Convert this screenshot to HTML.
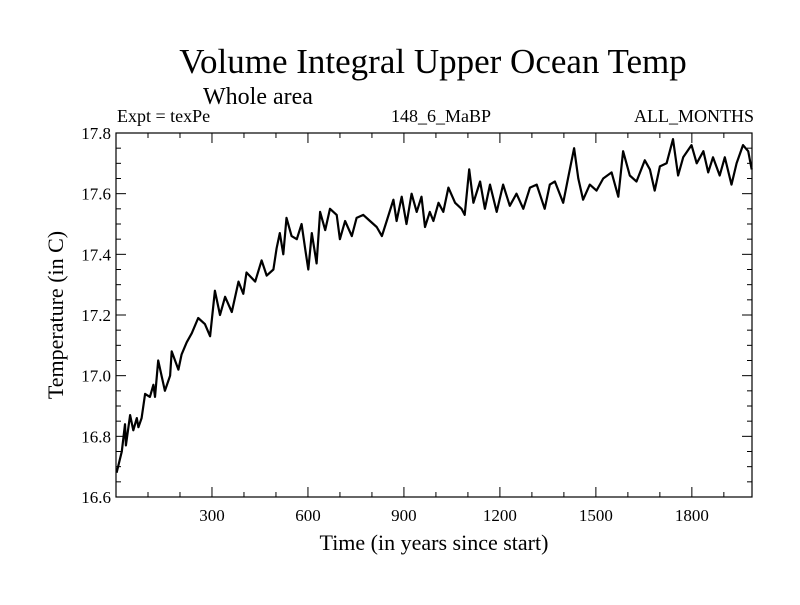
<!DOCTYPE html>
<html><head><meta charset="utf-8"><style>
body{margin:0;background:#fff}
svg text{font-family:"Liberation Serif",serif;fill:#000}
</style></head><body>
<svg id="chart" width="800" height="600" viewBox="0 0 800 600">
<rect width="800" height="600" fill="#fff"/>
<text x="433" y="73" font-size="35" text-anchor="middle">Volume Integral Upper Ocean Temp</text>
<text x="203" y="104" font-size="24">Whole area</text>
<text x="117" y="122" font-size="18">Expt = texPe</text>
<text x="441" y="122" font-size="18" text-anchor="middle">148_6_MaBP</text>
<text x="754" y="122" font-size="18" text-anchor="end">ALL_MONTHS</text>
<text x="434" y="550" font-size="22" text-anchor="middle">Time (in years since start)</text>
<text transform="translate(63,315) rotate(-90)" font-size="22" text-anchor="middle">Temperature (in C)</text>
<g id="axes"></g>
<path id="series" fill="none" stroke="#000" stroke-width="2.2" stroke-linejoin="round"/>
<rect x="116" y="133" width="636" height="364" fill="none" stroke="#000" stroke-width="1.2"/>
</svg>
<script>
const years=[2,18,28,31,44,54,65,70,80,91,106,117,122,132,153,169,174,195,205,221,237,257,278,294,309,325,341,362,383,398,408,435,455,471,492,502,512,523,533,549,565,580,591,601,612,627,638,654,669,690,700,716,737,752,773,794,815,831,846,867,877,893,908,924,940,955,966,981,992,1008,1023,1039,1060,1080,1090,1104,1117,1138,1153,1169,1190,1210,1231,1252,1273,1294,1315,1340,1356,1372,1398,1413,1432,1445,1460,1481,1502,1523,1549,1570,1585,1606,1627,1653,1669,1684,1700,1721,1741,1757,1773,1799,1815,1836,1851,1866,1887,1903,1924,1940,1960,1976,1987];
const temps=[16.68,16.75,16.84,16.77,16.87,16.82,16.86,16.83,16.86,16.94,16.93,16.97,16.93,17.05,16.95,17.00,17.08,17.02,17.07,17.11,17.14,17.19,17.17,17.13,17.28,17.20,17.26,17.21,17.31,17.27,17.34,17.31,17.38,17.33,17.35,17.42,17.47,17.40,17.52,17.46,17.45,17.50,17.42,17.35,17.47,17.37,17.54,17.48,17.55,17.53,17.45,17.51,17.46,17.52,17.53,17.51,17.49,17.46,17.51,17.58,17.51,17.59,17.50,17.60,17.54,17.59,17.49,17.54,17.51,17.57,17.54,17.62,17.57,17.55,17.53,17.68,17.57,17.64,17.55,17.63,17.54,17.63,17.56,17.60,17.55,17.62,17.63,17.55,17.63,17.64,17.57,17.65,17.75,17.65,17.58,17.63,17.61,17.65,17.67,17.59,17.74,17.66,17.64,17.71,17.68,17.61,17.69,17.70,17.78,17.66,17.72,17.76,17.70,17.74,17.67,17.72,17.66,17.72,17.63,17.70,17.76,17.74,17.68];
const xTickLabels=[300,600,900,1200,1500,1800];
const yTickLabels=[16.6,16.8,17.0,17.2,17.4,17.6,17.8];
const L=116,R=752,T=133,B=497,XMIN=0,XMAX=1988,YMIN=16.6,YMAX=17.8;
const xs=v=>L+(v-XMIN)/(XMAX-XMIN)*(R-L);
const ys=v=>B-(v-YMIN)/(YMAX-YMIN)*(B-T);
const NS="http://www.w3.org/2000/svg";
const ax=document.getElementById('axes');
function ln(x1,y1,x2,y2,name){const l=document.createElementNS(NS,'line');l.setAttribute('x1',x1);l.setAttribute('y1',y1);l.setAttribute('x2',x2);l.setAttribute('y2',y2);l.setAttribute('stroke','#000');l.setAttribute('stroke-width','1');


ax.appendChild(l);}
function tx(x,y,s,anchor,name){const t=document.createElementNS(NS,'text');t.setAttribute('x',x);t.setAttribute('y',y);t.setAttribute('font-size','17');t.setAttribute('text-anchor',anchor);t.textContent=s;


ax.appendChild(t);}
for(let v=100;v<XMAX;v+=100){const big=v%300===0;const x=xs(v);ln(x,B,x,B-(big?10:5),'x-tick');ln(x,T,x,T+(big?10:5),'x-tick-top');}
xTickLabels.forEach(v=>tx(xs(v),521,String(v),'middle','x-tick-label'));
for(let i=0;i<=24;i++){const v=YMIN+i*0.05;const big=i%4===0;const y=ys(v);ln(L,y,L+(big?10:5),y,'y-tick');ln(R,y,R-(big?10:5),y,'y-tick-right');}
yTickLabels.forEach(v=>tx(111,ys(v)+6,v.toFixed(1),'end','y-tick-label'));
let d='';years.forEach((yr,i)=>{d+=(i?'L':'M')+xs(yr).toFixed(1)+','+ys(temps[i]).toFixed(1);});
document.getElementById('series').setAttribute('d',d);
</script>
</body></html>
